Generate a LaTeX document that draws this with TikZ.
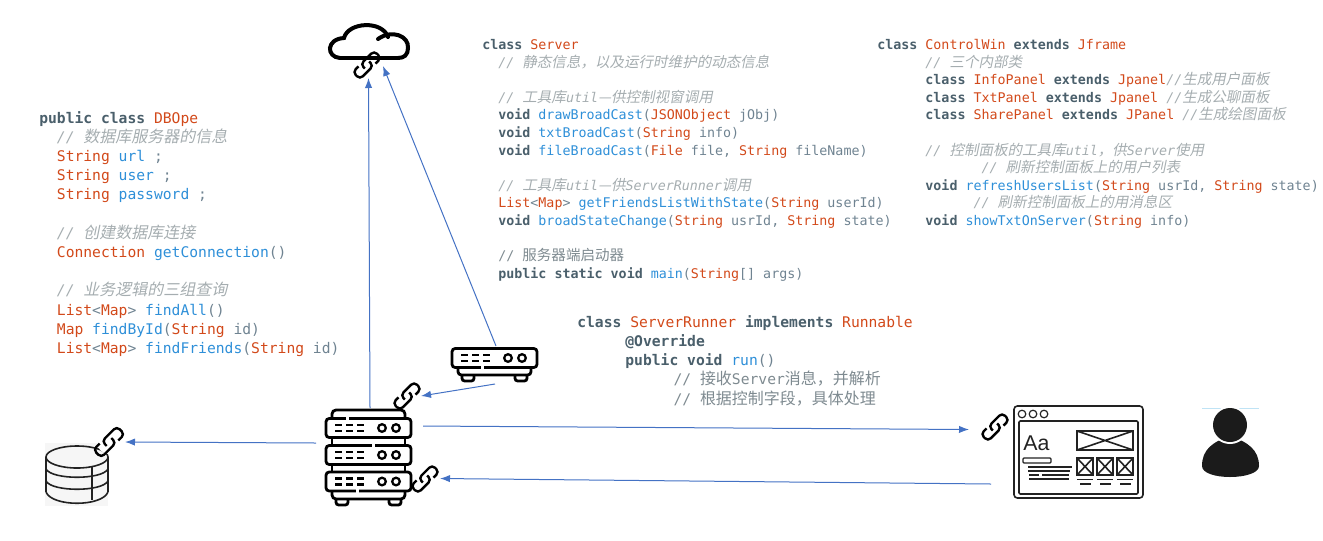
\documentclass[tikz,border=0pt]{standalone}
\usepackage{xcolor}
\usepackage{fontspec}
\usepackage{tikz}
\usetikzlibrary{arrows.meta,positioning,calc}
\newfontfamily\codefont{DejaVu Sans Mono}
\newfontfamily\cnfont[Scale=1.09]{Noto Sans CJK SC}
\newfontfamily\cnslant[Scale=1.09,FakeSlant=0.2]{Noto Sans CJK SC}
\newfontfamily\uifont{Liberation Sans}
\lineskiplimit=-20pt
\normallineskiplimit=-20pt
\newcommand{\kw}[1]{\textcolor{codekw}{\bfseries #1}}
\newcommand{\ty}[1]{\textcolor{codety}{#1}}
\newcommand{\fn}[1]{\textcolor{codefn}{#1}}
\newcommand{\cm}[1]{\textcolor{codecm}{\itshape #1}}
\newcommand{\cmz}[1]{{\cnslant\textcolor{codecm}{#1}}}
\newcommand{\cu}[1]{\textcolor{codecu}{#1}}
\newcommand{\cuz}[1]{{\cnfont\textcolor{codecu}{#1}}}
\newcommand{\ind}[1]{\hspace*{#1\dimexpr 0.602em\relax}}
\begin{document}
\begin{tikzpicture}[
  x=0.75pt,
  y=-0.75pt,
  >=Latex,
  codeloose/.style={anchor=north west,inner sep=0pt,align=left,text=codepl,
    font=\codefont\fontsize{11}{14.4}\selectfont},
  codetight/.style={anchor=north west,inner sep=0pt,align=left,text=codepl,
    font=\codefont\fontsize{10}{13.2}\selectfont},
  flow/.style={-{Latex[length=7.5pt,width=5.5pt]},line width=0.75pt,draw=flowblue},
  iconline/.style={line width=2.1pt,draw=black},
  thinline/.style={line width=1.2pt,draw=iconink},
  chain/.style={line width=1.8pt,draw=black,rounded corners=3pt},
  pics/rackunit/.style={code={
    \draw[iconline,rounded corners=2.4pt,fill=white] (-42.5,-9.5) rectangle (42.5,9.5);
    \foreach \dashx in {-30,-19,-8} {
      \draw[line width=1.7pt] (\dashx-3.5,-3) -- (\dashx+3.5,-3);
      \draw[line width=1.7pt] (\dashx-3.5,3) -- (\dashx+3.5,3);
    }
    \draw[line width=1.7pt] (13.5,0) circle[radius=3.8];
    \draw[line width=1.7pt] (27.5,0) circle[radius=3.8];
  }},
  pics/linkicon/.style={code={
    \draw[chain,rotate=45] (-7,-5) -- (-15,-5) -- (-15,5) -- (4,5) -- (4,-1);
    \draw[chain,rotate=45] (7,5) -- (15,5) -- (15,-5) -- (-4,-5) -- (-4,1);
  }}
]
  \definecolor{codekw}{HTML}{4A5F6B}
  \definecolor{codety}{HTML}{D2491A}
  \definecolor{codefn}{HTML}{2E8FD8}
  \definecolor{codepl}{HTML}{6F8391}
  \definecolor{codecm}{HTML}{A5ADB0}
  \definecolor{codecu}{HTML}{7E8A90}
  \definecolor{flowblue}{HTML}{4472C4}
  \definecolor{iconink}{HTML}{222222}
  \definecolor{dbback}{HTML}{F6F6F6}
  \definecolor{userline}{HTML}{BFE3F5}

  \useasboundingbox (0,0) rectangle (1323,540);

  \node[codeloose] (dbopeCode) at (39,111) {%
    \kw{public class} \ty{DBOpe}\\
    \ind{2}\cm{// }\cmz{数据库服务器的信息}\\
    \ind{2}\ty{String} \fn{url} ;\\
    \ind{2}\ty{String} \fn{user} ;\\
    \ind{2}\ty{String} \fn{password} ;\\
    ~\\
    \ind{2}\cm{// }\cmz{创建数据库连接}\\
    \ind{2}\ty{Connection} \fn{getConnection}()\\
    ~\\
    \ind{2}\cm{// }\cmz{业务逻辑的三组查询}\\
    \ind{2}\ty{List}<\ty{Map}> \fn{findAll}()\\
    \ind{2}\ty{Map} \fn{findById}(\ty{String} id)\\
    \ind{2}\ty{List}<\ty{Map}> \fn{findFriends}(\ty{String} id)};

  \node[codetight] (serverCode) at (482,39) {%
    \kw{class} \ty{Server}\\
    \ind{2}\cm{// }\cmz{静态信息，以及运行时维护的动态信息}\\
    ~\\
    \ind{2}\cm{// }\cmz{工具库}\cm{util}\cmz{—供控制视窗调用}\\
    \ind{2}\kw{void} \fn{drawBroadCast}(\ty{JSONObject} jObj)\\
    \ind{2}\kw{void} \fn{txtBroadCast}(\ty{String} info)\\
    \ind{2}\kw{void} \fn{fileBroadCast}(\ty{File} file, \ty{String} fileName)\\
    ~\\
    \ind{2}\cm{// }\cmz{工具库}\cm{util}\cmz{—供}\cm{ServerRunner}\cmz{调用}\\
    \ind{2}\ty{List}<\ty{Map}> \fn{getFriendsListWithState}(\ty{String} userId)\\
    \ind{2}\kw{void} \fn{broadStateChange}(\ty{String} usrId, \ty{String} state)\\
    ~\\
    \ind{2}\cu{// }\cuz{服务器端启动器}\\
    \ind{2}\kw{public static void} \fn{main}(\ty{String}[] args)};

  \node[codetight] (controlCode) at (877,39) {%
    \kw{class} \ty{ControlWin} \kw{extends} \ty{Jframe}\\
    \ind{6}\cm{// }\cmz{三个内部类}\\
    \ind{6}\kw{class} \ty{InfoPanel} \kw{extends} \ty{Jpanel}\cm{//}\cmz{生成用户面板}\\
    \ind{6}\kw{class} \ty{TxtPanel} \kw{extends} \ty{Jpanel} \cm{//}\cmz{生成公聊面板}\\
    \ind{6}\kw{class} \ty{SharePanel} \kw{extends} \ty{JPanel} \cm{//}\cmz{生成绘图面板}\\
    ~\\
    \ind{6}\cm{// }\cmz{控制面板的工具库}\cm{util}\cmz{，供}\cm{Server}\cmz{使用}\\
    \ind{13}\cm{// }\cmz{刷新控制面板上的用户列表}\\
    \ind{6}\kw{void} \fn{refreshUsersList}(\ty{String} usrId, \ty{String} state)\\
    \ind{12}\cm{// }\cmz{刷新控制面板上的用消息区}\\
    \ind{6}\kw{void} \fn{showTxtOnServer}(\ty{String} info)};

  \node[codeloose] (runnerCode) at (577,315) {%
    \kw{class} \ty{ServerRunner} \kw{implements} \ty{Runnable}\\
    \ind{5.45}\kw{@Override}\\
    \ind{5.45}\kw{public void} \fn{run}()\\
    \ind{10.9}\cu{// }\cuz{接收}\cu{Server}\cuz{消息，并解析}\\
    \ind{10.9}\cu{// }\cuz{根据控制字段，具体处理}};

  % cloud
  \draw[line width=3pt,line cap=round] (340,58) .. controls (326,57) and (326,39) .. (344,38)
    .. controls (348,22) and (382,20) .. (388,37);
  \draw[line width=3pt,line cap=round] (378,39) .. controls (392,29) and (409,36) .. (408,48)
    .. controls (408,55) and (404,58) .. (398,58);
  \draw[line width=3.4pt] (339,58) -- (400,58);
  \pic (cloudLink) at (367,65) {linkicon};

  % server stack
  \draw[iconline,rounded corners=3pt] (332,418) -- (332,410) -- (405,410) -- (405,418);
  \draw[iconline] (332,437) -- (332,445) (405,437) -- (405,445);
  \draw[iconline] (332,464) -- (332,472) (405,464) -- (405,472);
  \draw[iconline,fill=white,rounded corners=2pt] (336,499) -- (336,505) -- (348,505) -- (348,499);
  \draw[iconline,fill=white,rounded corners=2pt] (389,499) -- (389,505) -- (401,505) -- (401,499);
  \draw[iconline,rounded corners=3pt] (332,491) -- (332,499) -- (405,499) -- (405,491);
  \pic (srvRowA) at (368.5,428) {rackunit};
  \pic (srvRowB) at (368.5,455) {rackunit};
  \pic (srvRowC) at (368.5,481.5) {rackunit};
  \draw[white,line width=2.4pt] (346,418) -- (349,418) (372,445) -- (375,445) (356,491) -- (359,491);
  \pic (srvLink) at (407,396) {linkicon};
  \pic (outLink) at (425,479) {linkicon};

  % small device
  \draw[iconline,fill=white,rounded corners=2pt] (462,375) -- (462,381) -- (474,381) -- (474,375);
  \draw[iconline,fill=white,rounded corners=2pt] (515,375) -- (515,381) -- (527,381) -- (527,375);
  \draw[iconline,rounded corners=2.5pt] (458,368) -- (458,375) -- (531,375) -- (531,368);
  \pic (runnerDev) at (494.5,358) {rackunit};
  \draw[white,line width=2.4pt] (481,368) -- (484,368);

  % database
  \fill[dbback] (45,443) rectangle (108,506);
  \draw[line width=1.2pt,draw=iconink] (46,457) -- (46,492)
    (108,457) -- (108,492);
  \draw[line width=1.2pt,draw=iconink] (77,457) ellipse[x radius=31,y radius=11];
  \draw[line width=1.2pt,draw=iconink] (46,469) .. controls (52,480) and (102,480) .. (108,469);
  \draw[line width=1.2pt,draw=iconink] (46,481) .. controls (52,492) and (102,492) .. (108,481);
  \draw[line width=1.2pt,draw=iconink] (46,492) .. controls (52,507) and (102,507) .. (108,492);
  \draw[line width=1.2pt,draw=iconink] (92,467) -- (92,500);
  \fill[white] (109,442) circle[radius=12];
  \pic[scale=1.1] (dbLink) at (109,442) {linkicon};

  % window
  \draw[thinline,rounded corners=2.5pt] (1014,406) rectangle (1143,498);
  \draw[thinline,rounded corners=1pt] (1019,421) rectangle (1138,494);
  \foreach \dotx in {1022,1033,1044} {
    \draw[line width=0.9pt,draw=iconink] (\dotx,414) circle[radius=3.8];
  }
  \node[anchor=base west,inner sep=0pt,text=iconink,font=\uifont\fontsize{16}{18}\selectfont]
    (winLabel) at (1023,450) {Aa};
  \draw[thinline] (1077,431) rectangle (1133,450) (1077,431) -- (1133,450) (1077,450) -- (1133,431);
  \foreach \boxx in {1077,1097,1117} {
    \draw[thinline] (\boxx,458) rectangle ++(16,17) (\boxx,458) -- ++(16,17) (\boxx,475) -- ++(16,-17);
    \draw[line width=0.9pt,draw=iconink] (\boxx,479.5) -- ++(16,0) (\boxx+3,484) -- ++(11,0);
  }
  \draw[line width=0.9pt,draw=iconink,rounded corners=0.8pt] (1023,458) rectangle (1051,463);
  \draw[line width=0.9pt,draw=iconink] (1028,467) -- (1072,467) (1028,471) -- (1070,471)
    (1029,475) -- (1039,475) (1042,475) -- (1069,475) (1029,479) -- (1069,479);
  \pic (winLink) at (995,427) {linkicon};

  % user
  \draw[userline,line width=0.75pt] (1202,408) -- (1259,408);
  \fill[iconink!80!black] (1202,466) .. controls (1202,450) and (1212,442) .. (1230,436)
    .. controls (1248,442) and (1259,450) .. (1259,466)
    .. controls (1259,473) and (1245,477) .. (1230,477)
    .. controls (1215,477) and (1202,473) .. (1202,466) -- cycle;
  \fill[white] (1230,425) circle[radius=19];
  \fill[iconink!80!black] (1230,425) circle[radius=17];

  \coordinate (srvTop) at (370,408);
  \coordinate (cloudInA) at (368.5,78);
  \coordinate (cloudInB) at (383,66);
  \coordinate (devTop) at (496,346);
  \coordinate (devLow) at (495,384);
  \coordinate (srvLinkIn) at (421,396);
  \coordinate (srvLeft) at (316,443);
  \coordinate (dbLinkIn) at (125,442);
  \coordinate (srvOut) at (423,426);
  \coordinate (winLinkIn) at (969,429.5);
  \coordinate (winOut) at (991,484);
  \coordinate (outLinkIn) at (440,478.5);

  \draw[flow] (srvTop) -- (cloudInA);
  \draw[flow] (devTop) -- (cloudInB);
  \draw[flow] (devLow) -- (srvLinkIn);
  \draw[flow] (srvLeft) -- (dbLinkIn);
  \draw[flow] (srvOut) -- (winLinkIn);
  \draw[flow] (winOut) -- (outLinkIn);
\end{tikzpicture}
\end{document}
